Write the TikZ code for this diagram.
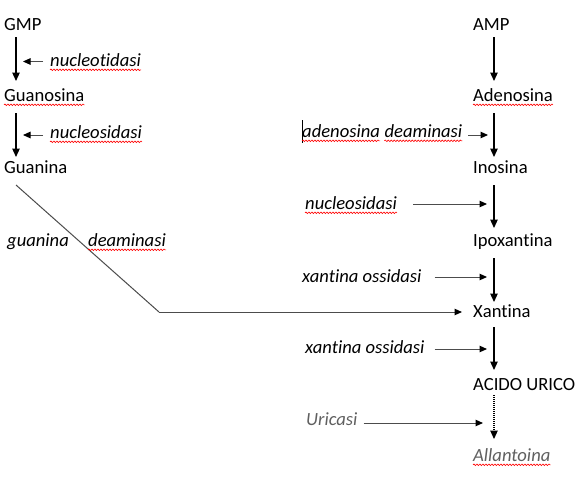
\documentclass[tikz,border=0pt]{standalone}
\usepackage{fontspec}
\setmainfont{Carlito}[Ligatures={CommonOff,ContextualOff,RareOff}]
\usetikzlibrary{arrows.meta,decorations.pathmorphing,calc}
\definecolor{lab}{RGB}{96,96,96}
\newcommand\myti{t\kern0pt i}
\begin{document}
\begin{tikzpicture}[x=1pt,y=-1pt,
  txt/.style={inner sep=0pt,anchor=base west,font=\fontsize{18.6}{22}\selectfont},
  enz/.style={txt,font=\fontsize{18.6}{22}\selectfont\itshape},
  main/.style={line width=1.2pt,-{Triangle[length=8.5pt,width=7.5pt]}},
  side/.style={line width=1pt,black!70,-{Triangle[length=7.5pt,width=6.5pt,color=black]}},
  gline/.style={line width=1pt,black!70},
  wavy/.style={red,line width=0.6pt,decorate,decoration={snake,segment length=3pt,amplitude=0.8pt}}]
\useasboundingbox[fill=white] (0,0) rectangle (581,479);
% metabolites
\node[txt] (gmp) at (4,30) {GMP};
\node[txt] (guanosina) at (4,101) {Guanosina};
\node[txt] (guanina) at (4,173) {Guanina};
\node[txt] (amp) at (473,30) {AMP};
\node[txt] (adenosina) at (473,101) {Adenosina};
\node[txt] (inosina) at (473,173) {Inosina};
\node[txt] (ipox) at (473,246) {Ipoxan\myti na};
\node[txt] (xantina) at (473,317) {Xan\myti na};
\node[txt] (acido) at (473,390) {ACIDO URICO};
\node[enz,text=lab] (allantoina) at (473,461) {Allantoina};
% enzymes
\node[enz] (e1) at (50,66) {nucleo\myti dasi};
\node[enz] (e2) at (50,138) {nucleosidasi};
\node[enz] (e3a) at (7,246) {guanina};
\node[enz] (e3b) at (88,246) {deaminasi};
\node[enz] (e4a) at (302,137) {adenosina};
\node[enz] (e4b) at ([xshift=4.2pt]e4a.base east) {deaminasi};
\node[enz] (e5) at (305,209) {nucleosidasi};
\node[enz] (e6) at (302,282) {xan\myti na ossidasi};
\node[enz] (e7) at (305,353) {xan\myti na ossidasi};
\node[enz,text=lab] (e8) at (306,425) {Uricasi};
% main arrows left
\draw[main] ([shift={(12,7)}]gmp.base west) -- ([shift={(12,-20)}]guanosina.base west);
\draw[main] ([shift={(12,12)}]guanosina.base west) -- ([shift={(12,-16)}]guanina.base west);
% main arrows right
\draw[main] ([shift={(21,7)}]amp.base west) -- ([shift={(21,-20)}]adenosina.base west);
\draw[main] ([shift={(21,12)}]adenosina.base west) -- ([shift={(21,-16)}]inosina.base west);
\draw[main] ([shift={(21,12)}]inosina.base west) -- ([shift={(21,-18)}]ipox.base west);
\draw[main] ([shift={(21,12)}]ipox.base west) -- ([shift={(21,-15)}]xantina.base west);
\draw[main] ([shift={(21,10)}]xantina.base west) -- ([shift={(21,-20)}]acido.base west);
\draw[main,line width=1.1pt,dash pattern=on 1pt off 1pt] ([shift={(21,5)}]acido.base west) -- ([shift={(21,-22)}]allantoina.base west);
% side arrows
\draw[side] ([shift={(-7,-4.5)}]e1.base west) -- ([shift={(-27,-4.5)}]e1.base west);
\draw[side] ([shift={(-7,-3)}]e2.base west) -- ([shift={(-27,-3)}]e2.base west);
\draw[side] ([shift={(6,-2)}]e4b.base east) -- ([shift={(15,34)}]adenosina.base west);
\draw[side] ([shift={(16,-5)}]e5.base east) -- ([shift={(14,31)}]inosina.base west);
\draw[side] ([shift={(13,-5)}]e6.base east) -- ([shift={(14,31)}]ipox.base west);
\draw[side] ([shift={(10,-4)}]e7.base east) -- ([shift={(14,32)}]xantina.base west);
\draw[side] ([shift={(6,-2)}]e8.base east) -- ([shift={(10,33)}]acido.base west);
% guanina deaminasi path
\coordinate (bend) at (159,312);
\draw[gline] ([shift={(12,12)}]guanina.base west) -- (bend);
\draw[side] (bend) -- ([shift={(-11,-5)}]xantina.base west);
% cursor
\draw[line width=0.8pt] ([shift={(0,-17)}]e4a.base west) -- ([shift={(0,6)}]e4a.base west);
% spell-check underlines
\foreach \n in {guanosina,adenosina,allantoina,e1,e2,e3b,e4a,e4b,e5}
  \draw[wavy] ([yshift=-3.8pt]\n.base west) -- ([yshift=-3.8pt]\n.base east);
\end{tikzpicture}
\end{document}
